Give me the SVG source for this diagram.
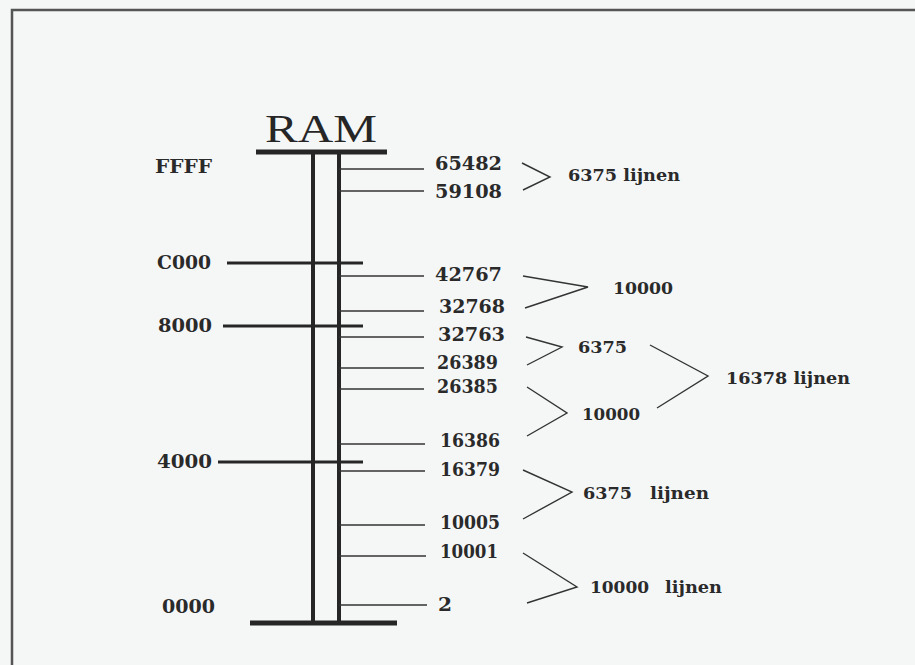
<svg xmlns="http://www.w3.org/2000/svg" width="915" height="665" viewBox="0 0 915 665">
<style>
.bg{fill:#f5f7f7}
.frame{stroke:#555;stroke-width:2.5;fill:none}
.bar{stroke:#262626;stroke-width:5;fill:none}
.post{stroke:#262626;stroke-width:4;fill:none}
.div{stroke:#262626;stroke-width:3;fill:none}
.tick{stroke:#333;stroke-width:1.6;fill:none}
.br{stroke:#333;stroke-width:1.4;fill:none;stroke-linejoin:miter}
.lbl{font-family:"DejaVu Serif",serif;font-weight:bold;font-size:18px;fill:#2a2a2a}
.sum{font-family:"DejaVu Serif",serif;font-weight:bold;font-size:16px;fill:#2a2a2a}
.title{font-family:"Liberation Serif",serif;font-size:41px;fill:#262626}
</style>
<rect class="bg" x="0" y="0" width="915" height="665"/>
<path class="frame" d="M12,665 V10 H915"/>
<g id="ram">
<text class="title" x="265" y="142" textLength="112" lengthAdjust="spacingAndGlyphs">RAM</text>
<line class="bar" x1="256" y1="152" x2="387" y2="152"/>
<line class="bar" x1="250" y1="623" x2="397" y2="623"/>
<line class="post" x1="313" y1="152" x2="313" y2="623"/>
<line class="post" x1="339" y1="152" x2="339" y2="623"/>
</g>
<g id="hex-marks">
<text class="lbl" x="155" y="173" textLength="57" lengthAdjust="spacingAndGlyphs">FFFF</text>
<line class="div" x1="227" y1="263" x2="363" y2="263"/>
<text class="lbl" x="157" y="269" textLength="54" lengthAdjust="spacingAndGlyphs">C000</text>
<line class="div" x1="223" y1="326" x2="363" y2="326"/>
<text class="lbl" x="158" y="332" textLength="54" lengthAdjust="spacingAndGlyphs">8000</text>
<line class="div" x1="218" y1="462" x2="363" y2="462"/>
<text class="lbl" x="157" y="468" textLength="55" lengthAdjust="spacingAndGlyphs">4000</text>
<text class="lbl" x="162" y="613" textLength="53" lengthAdjust="spacingAndGlyphs">0000</text>
</g>
<g id="ticks">
<line class="tick" x1="339" y1="169" x2="424" y2="169"/>
<line class="tick" x1="339" y1="191" x2="424" y2="191"/>
<line class="tick" x1="339" y1="276" x2="424" y2="276"/>
<line class="tick" x1="339" y1="311" x2="424" y2="311"/>
<line class="tick" x1="339" y1="337" x2="424" y2="337"/>
<line class="tick" x1="339" y1="368" x2="424" y2="368"/>
<line class="tick" x1="339" y1="389" x2="424" y2="389"/>
<line class="tick" x1="339" y1="444" x2="425" y2="444"/>
<line class="tick" x1="339" y1="471" x2="425" y2="471"/>
<line class="tick" x1="339" y1="525" x2="425" y2="525"/>
<line class="tick" x1="339" y1="556" x2="426" y2="556"/>
<line class="tick" x1="339" y1="605" x2="427" y2="605"/>
</g>
<g id="addresses">
<text class="lbl" x="435" y="170" textLength="67" lengthAdjust="spacingAndGlyphs">65482</text>
<text class="lbl" x="435" y="198" textLength="67" lengthAdjust="spacingAndGlyphs">59108</text>
<text class="lbl" x="435" y="281" textLength="67" lengthAdjust="spacingAndGlyphs">42767</text>
<text class="lbl" x="439" y="313" textLength="66" lengthAdjust="spacingAndGlyphs">32768</text>
<text class="lbl" x="438" y="341" textLength="67" lengthAdjust="spacingAndGlyphs">32763</text>
<text class="lbl" x="437" y="369" textLength="61" lengthAdjust="spacingAndGlyphs">26389</text>
<text class="lbl" x="437" y="393" textLength="61" lengthAdjust="spacingAndGlyphs">26385</text>
<text class="lbl" x="440" y="447" textLength="60" lengthAdjust="spacingAndGlyphs">16386</text>
<text class="lbl" x="440" y="476" textLength="60" lengthAdjust="spacingAndGlyphs">16379</text>
<text class="lbl" x="440" y="529" textLength="60" lengthAdjust="spacingAndGlyphs">10005</text>
<text class="lbl" x="440" y="558" textLength="58" lengthAdjust="spacingAndGlyphs">10001</text>
<text class="lbl" x="438" y="611" textLength="14" lengthAdjust="spacingAndGlyphs">2</text>
</g>
<g id="connectors">
<path class="br" d="M522,163 L550,177 L523,190"/>
<path class="br" d="M523,276 L588,287 L525,308"/>
<path class="br" d="M526,337 L562,347 L527,365"/>
<path class="br" d="M527,387 L567,413 L527,436"/>
<path class="br" d="M650,345 L708,376 L657,408"/>
<path class="br" d="M523,470 L572,492 L523,519"/>
<path class="br" d="M523,553 L577,587 L527,603"/>
</g>
<g id="totals">
<text class="sum" x="568" y="181" textLength="112" lengthAdjust="spacingAndGlyphs">6375 lijnen</text>
<text class="sum" x="613" y="294" textLength="60" lengthAdjust="spacingAndGlyphs">10000</text>
<text class="sum" x="578" y="353" textLength="49" lengthAdjust="spacingAndGlyphs">6375</text>
<text class="sum" x="582" y="420" textLength="58" lengthAdjust="spacingAndGlyphs">10000</text>
<text class="sum" x="726" y="384" textLength="124" lengthAdjust="spacingAndGlyphs">16378 lijnen</text>
<text class="sum" x="583" y="499" textLength="49" lengthAdjust="spacingAndGlyphs">6375</text>
<text class="sum" x="650" y="499" textLength="59" lengthAdjust="spacingAndGlyphs">lijnen</text>
<text class="sum" x="590" y="593" textLength="59" lengthAdjust="spacingAndGlyphs">10000</text>
<text class="sum" x="665" y="593" textLength="57" lengthAdjust="spacingAndGlyphs">lijnen</text>
</g>
</svg>
